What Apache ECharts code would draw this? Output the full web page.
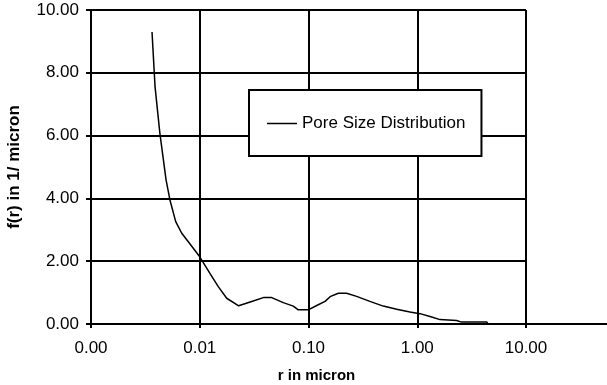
<!DOCTYPE html>
<html>
<head>
<meta charset="utf-8">
<script src="https://cdn.jsdelivr.net/npm/echarts@6/dist/echarts.min.js"></script>
<style>
  html, body { margin: 0; padding: 0; background: #fff; }
  #chart { width: 607px; height: 385px; }
</style>
</head>
<body>
<div id="chart"></div>
<script>
// r in micron (log axis) and f(r) in 1/micron
const radius = [
  0.00364, 0.00388, 0.00430, 0.00490, 0.00532, 0.00601, 0.00683, 0.00785,
  0.0100, 0.0124, 0.0148, 0.0177, 0.0228, 0.0310, 0.0384, 0.0459, 0.0586,
  0.0725, 0.0805, 0.0995, 0.119, 0.142, 0.158, 0.188, 0.224, 0.277, 0.367,
  0.487, 0.647, 0.857, 1.06, 1.31, 1.62, 2.30, 2.56, 4.36, 4.45
]
const density = [
  9.30, 7.56, 6.07, 4.59, 3.95, 3.26, 2.89, 2.62,
  2.14, 1.61, 1.19, 0.82, 0.58, 0.73, 0.84, 0.84, 0.68,
  0.57, 0.45, 0.45, 0.59, 0.72, 0.87, 0.98, 0.98, 0.88, 0.72,
  0.57, 0.47, 0.38, 0.33, 0.24, 0.14, 0.11, 0.06, 0.06, 0.03
]
const seriesName = 'Pore Size Distribution'
const xTicks = [0.001, 0.01, 0.1, 1, 10]
const yTicks = [0, 2, 4, 6, 8, 10]

const FONT = '"Liberation Sans", Arial, sans-serif'
const GRID = { left: 91, top: 10, right: 81, bottom: 61, outerBoundsMode: 'none' }

const chart = echarts.init(document.getElementById('chart'), null, { renderer: 'canvas' })

chart.setOption({
  animation: false,
  backgroundColor: '#fff',
  grid: GRID,
  legend: {
    left: 249,
    top: 90,
    orient: 'vertical',
    backgroundColor: '#fff',
    borderColor: '#000',
    borderWidth: 2,
    borderRadius: 0,
    padding: [25, 16, 24, 18],
    icon: 'rect',
    itemWidth: 30,
    itemHeight: 1.5,
    itemGap: 5,
    itemStyle: { color: '#000' },
    textStyle: { color: '#000', fontSize: 17, fontFamily: FONT },
    data: [seriesName],
  },
  xAxis: {
    type: 'log',
    logBase: 10,
    min: xTicks[0],
    max: xTicks[xTicks.length - 1],
    name: 'r in micron',
    nameLocation: 'middle',
    nameGap: 44,
    nameTextStyle: {
      color: '#000', fontSize: 15, fontWeight: 'bold', fontFamily: FONT,
      padding: [0, 0, 0, 16],
    },
    axisLine: { lineStyle: { color: '#000', width: 2 } },
    axisTick: { show: true, length: 4, lineStyle: { color: '#000', width: 2 } },
    minorTick: { show: false },
    axisLabel: {
      color: '#000', fontSize: 17, fontFamily: FONT, margin: 16,
      formatter: v => Number(v).toFixed(2),
    },
    splitLine: { show: true, lineStyle: { color: '#000', width: 2 } },
  },
  yAxis: {
    type: 'value',
    min: yTicks[0],
    max: yTicks[yTicks.length - 1],
    interval: 2,
    name: 'f(r) in 1/ micron',
    nameLocation: 'middle',
    nameGap: 68,
    nameTextStyle: { color: '#000', fontSize: 17, fontWeight: 'bold', fontFamily: FONT },
    axisLine: { show: true, lineStyle: { color: '#000', width: 2 } },
    axisTick: { show: true, length: 5, lineStyle: { color: '#000', width: 2 } },
    axisLabel: {
      color: '#000', fontSize: 17, fontFamily: FONT, margin: 12,
      formatter: v => Number(v).toFixed(2),
    },
    splitLine: { show: true, lineStyle: { color: '#000', width: 2 } },
  },
  series: [{
    name: seriesName,
    type: 'line',
    symbol: 'none',
    smooth: false,
    lineStyle: { color: '#000', width: 1.5 },
    itemStyle: { color: '#000' },
    data: radius.map((r, i) => [r, density[i]]),
  }],
})

// the x axis line runs on past the plot frame to the edge of the picture
const end = chart.convertToPixel({ xAxisIndex: 0 }, xTicks[xTicks.length - 1])
const baseY = chart.convertToPixel({ yAxisIndex: 0 }, 0)
chart.setOption({
  graphic: [{
    type: 'line',
    shape: { x1: end, y1: baseY, x2: 607, y2: baseY },
    style: { stroke: '#000', lineWidth: 2 },
    z: 10,
  }],
})
</script>
</body>
</html>
